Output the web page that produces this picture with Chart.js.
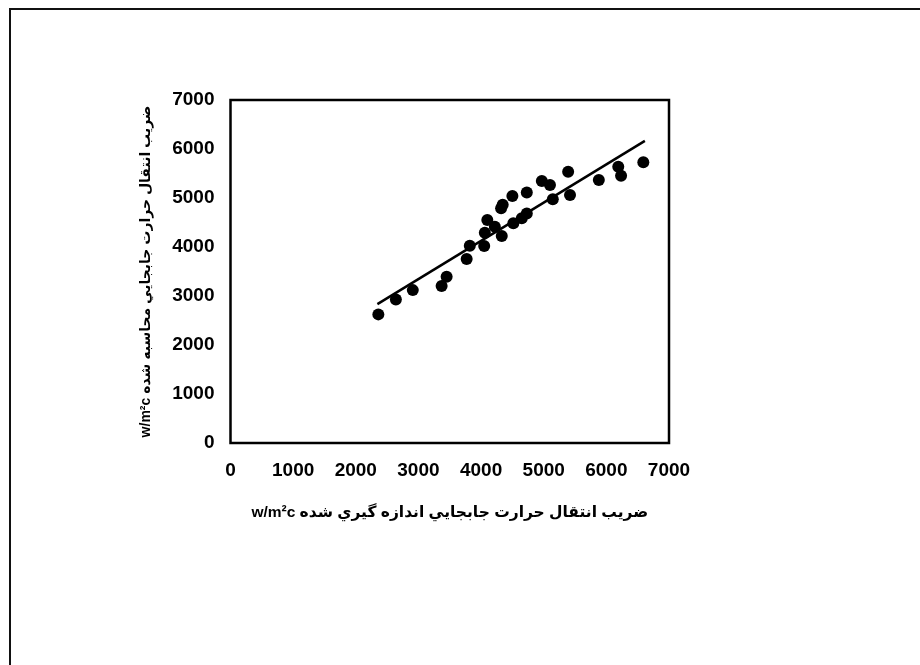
<!DOCTYPE html>
<html>
<head>
<meta charset="utf-8">
<script src="https://cdn.jsdelivr.net/npm/chart.js@4.4.1/dist/chart.umd.min.js"></script>
<style>
  html, body { margin: 0; padding: 0; background: #ffffff; }
  canvas { display: block; }
</style>
</head>
<body>
<canvas id="c" width="920" height="665"></canvas>
<script>
// Measured vs. calculated convective heat transfer coefficient (w/m²c)
const measuredX = [2360, 2640, 2910, 3370, 3450, 3770, 3820, 4050, 4060, 4100, 4220, 4330,
                   4320, 4345, 4500, 4515, 4650, 4730, 4730, 4970, 5100, 5145, 5390, 5420,
                   5880, 6190, 6235, 6590];
const computedY = [2625, 2930, 3120, 3205, 3395, 3755, 4025, 4020, 4290, 4550, 4415, 4225,
                   4790, 4860, 5040, 4485, 4585, 4685, 5110, 5345, 5265, 4975, 5535, 5060,
                   5365, 5640, 5455, 5730];

// Linear trend line end points
const trendX = [2345, 6615];
const trendY = [2835, 6165];

const axisTicks = [0, 1000, 2000, 3000, 4000, 5000, 6000, 7000];

const xTitle = 'w/m²c ضريب انتقال حرارت جابجايي اندازه گيري شده';
const yTitle = 'w/m²c ضريب انتقال حرارت جابجايي محاسبه شده';

const points = measuredX.map((x, i) => ({ x: x, y: computedY[i] }));
const trend = trendX.map((x, i) => ({ x: x, y: trendY[i] }));

const FONT = "'Liberation Sans', Arial, 'DejaVu Sans', sans-serif";

// Page frame (top and left rules) plus the box around the plot area
const framePlugin = {
  id: 'frame',
  beforeDraw(chart) {
    const ctx = chart.ctx;
    ctx.save();
    ctx.fillStyle = '#ffffff';
    ctx.fillRect(0, 0, chart.width, chart.height);
    ctx.strokeStyle = '#111111';
    ctx.lineWidth = 2;
    ctx.beginPath();
    ctx.moveTo(10, chart.height);
    ctx.lineTo(10, 9);
    ctx.lineTo(chart.width, 9);
    ctx.stroke();
    ctx.restore();
  },
  afterDatasetsDraw(chart) {
    const { ctx, chartArea: a } = chart;
    ctx.save();
    ctx.strokeStyle = '#000000';
    ctx.lineWidth = 2.5;
    ctx.strokeRect(a.left, a.top, a.right - a.left, a.bottom - a.top);
    ctx.restore();
  }
};

const plainTick = v => String(v);

new Chart(document.getElementById('c'), {
  type: 'scatter',
  data: {
    datasets: [
      {
        label: 'points',
        data: points,
        backgroundColor: '#000000',
        borderColor: '#000000',
        pointRadius: 6,
        pointBorderWidth: 0,
        order: 1
      },
      {
        label: 'trend',
        data: trend,
        showLine: true,
        borderColor: '#000000',
        borderWidth: 2.5,
        pointRadius: 0,
        order: 2
      }
    ]
  },
  options: {
    responsive: false,
    animation: false,
    layout: { padding: { top: 100, right: 251, bottom: 0, left: 0 } },
    plugins: {
      legend: { display: false },
      tooltip: { enabled: false }
    },
    scales: {
      x: {
        type: 'linear',
        min: 0,
        max: 7000,
        afterBuildTicks: s => { s.ticks = axisTicks.map(v => ({ value: v })); },
        afterFit: s => { s.height = 222; },
        grid: { display: false, drawTicks: false },
        border: { display: false },
        ticks: {
          padding: 16,
          color: '#000000',
          font: { family: FONT, size: 19, weight: 'bold' },
          maxRotation: 0,
          autoSkip: false,
          callback: plainTick
        },
        title: {
          display: true,
          text: xTitle,
          color: '#000000',
          font: { family: FONT, size: 15.5, weight: 'bold' },
          padding: { top: 0, bottom: 143 }
        }
      },
      y: {
        type: 'linear',
        min: 0,
        max: 7000,
        afterBuildTicks: s => { s.ticks = axisTicks.map(v => ({ value: v })); },
        afterFit: s => { s.width = 230.5; },
        grid: { display: false, drawTicks: false },
        border: { display: false },
        ticks: {
          padding: 16,
          color: '#000000',
          font: { family: FONT, size: 19, weight: 'bold' },
          autoSkip: false,
          callback: plainTick
        },
        title: {
          display: true,
          text: yTitle,
          color: '#000000',
          font: { family: FONT, size: 14, weight: 'bold' },
          padding: { top: 138, bottom: 0 }
        }
      }
    }
  },
  plugins: [framePlugin]
});
</script>
</body>
</html>
